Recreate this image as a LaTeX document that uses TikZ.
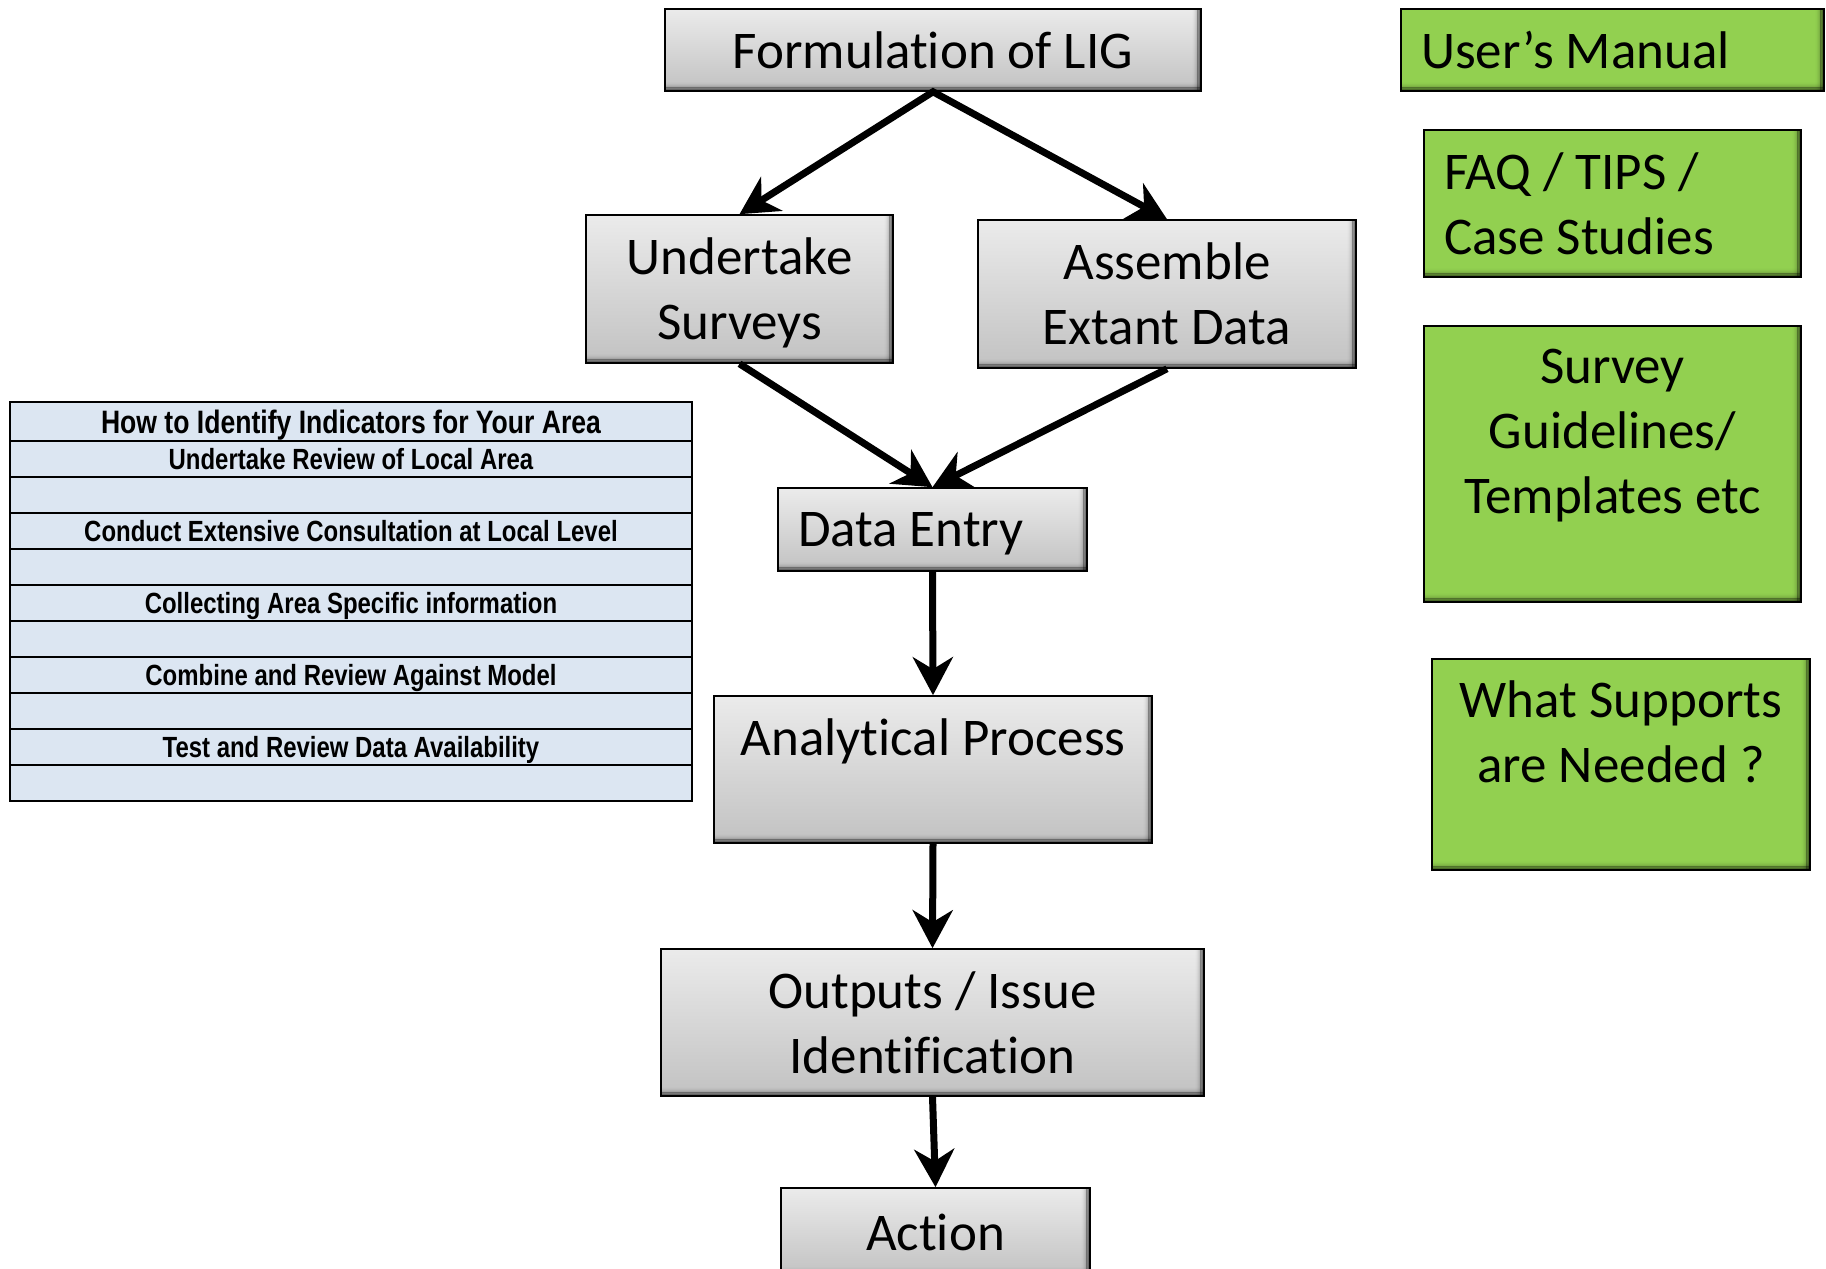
\documentclass[tikz,border=0pt]{standalone}
\usepackage{fontspec}
\setmainfont{Carlito}[Ligatures=NoCommon]
\newfontfamily\narrowfont[FakeStretch=0.82]{Liberation Sans}
\usetikzlibrary{arrows.meta}

\definecolor{boxtop}{HTML}{EBEBEB}
\definecolor{boxbot}{HTML}{C2C2C2}
\definecolor{supgreen}{HTML}{92D050}
\definecolor{tablefill}{HTML}{DCE6F2}

\tikzset{
  % soft darkening along the right and bottom inner edges
  edgeshade/.style={path picture={
    \foreach \i in {1,...,10}{
      \pgfmathsetmacro\op{0.6*((11-\i)/10)^2}
      \fill[black, opacity=\op]
        ([xshift=-\i*0.45pt]path picture bounding box.north east) rectangle
        ([xshift=-(\i-1)*0.45pt]path picture bounding box.south east);
      \fill[black, opacity=\op]
        ([yshift=(\i-1)*0.45pt]path picture bounding box.south west) rectangle
        ([yshift=\i*0.45pt]path picture bounding box.south east);
    }
  }},
  bigtext/.style={font=\fontsize{26.5pt}{32.5pt}\selectfont, text depth=0pt},
  flowbox/.style={draw=black, line width=0.8pt, top color=boxtop, bottom color=boxbot,
    edgeshade, bigtext, align=center, inner xsep=3pt, inner ysep=0pt},
  supportbox/.style={draw=black, line width=0.8pt, fill=supgreen,
    edgeshade, bigtext, align=center, inner xsep=3pt, inner ysep=0pt},
  leftset/.style={align=flush left, inner xsep=10pt, text width=#1},
  rowcell/.style={draw=black, line width=1pt, fill=tablefill, minimum width=341pt,
    minimum height=18pt, inner sep=0pt, text height=10.5pt, text depth=0pt,
    font=\narrowfont\bfseries\fontsize{14.6pt}{17pt}\selectfont},
  headcell/.style={rowcell, minimum height=19.5pt, text height=11.6pt,
    font=\narrowfont\bfseries\fontsize{16.2pt}{19pt}\selectfont},
  conn/.style={line width=3.5pt, draw=black},
  tip/.tip={Stealth[length=19pt, width=20pt, inset=6pt]}
}

\begin{document}
\begin{tikzpicture}[x=0.5pt, y=-0.5pt]
\useasboundingbox (0,0) rectangle (1826,1269);

% main flow
\node[flowbox, minimum width=268pt, minimum height=41pt] (form) at (933,50) {Formulation of LIG};
\node[flowbox, minimum width=153.5pt, minimum height=74pt] (surv) at (739.5,289) {Undertake\\Surveys};
\node[flowbox, minimum width=189pt, minimum height=74pt] (asm) at (1167,294) {Assemble\\Extant Data};
\node[flowbox, leftset=134.5pt, minimum width=154.5pt, minimum height=41.5pt] (entry) at (932.5,529.5) {Data Entry};
\node[flowbox, minimum width=219pt, minimum height=73.5pt] (anal) at (933,769.5) {Analytical Process\\~};
\node[flowbox, minimum width=271.5pt, minimum height=73.5pt] (out) at (932.5,1022.5) {Outputs / Issue\\Identification};
\node[flowbox, minimum width=154.5pt, minimum height=44pt] (act) at (935.5,1232) {Action};

% supporting material
\node[supportbox, leftset=191.5pt, minimum width=211.5pt, minimum height=41pt] (um) at (1612.5,50) {User’s Manual};
\node[supportbox, leftset=168.5pt, text depth=, minimum width=188.5pt, minimum height=73.5pt] (faq) at (1612.5,203.5) {FAQ / TIPS /\\Case Studies};
\node[supportbox, minimum width=188.5pt, minimum height=138pt] (sg) at (1612.5,464) {Survey\\Guidelines/\\Templates etc\\~};
\node[supportbox, minimum width=189pt, minimum height=105.5pt] (ws) at (1621,764.5) {What Supports\\are Needed ?\\~};

% indicator table
\node[headcell] (th) at (351,421.5) {How to Identify Indicators for Your Area};
\node[rowcell] (r1) at (351,459) {Undertake Review of Local Area};
\node[rowcell] (r2) at (351,495) {};
\node[rowcell] (r3) at (351,531) {Conduct Extensive Consultation at Local Level};
\node[rowcell] (r4) at (351,567) {};
\node[rowcell] (r5) at (351,603) {Collecting Area Specific information};
\node[rowcell] (r6) at (351,639) {};
\node[rowcell] (r7) at (351,675) {Combine and Review Against Model};
\node[rowcell] (r8) at (351,711) {};
\node[rowcell] (r9) at (351,747) {Test and Review Data Availability};
\node[rowcell] (r10) at (351,783) {};

% connectors
\draw[conn, tip-tip] (surv.north) -- (form.south) -- (asm.north);
\draw[conn, -tip] (surv.south) -- (entry.north);
\draw[conn, -tip] (asm.south) -- (entry.north);
\draw[conn, -tip] (entry.south) -- (anal.north);
\draw[conn, -tip] (anal.south) -- (out.north);
\draw[conn, -tip] (out.south) -- (act.north);
\end{tikzpicture}
\end{document}
